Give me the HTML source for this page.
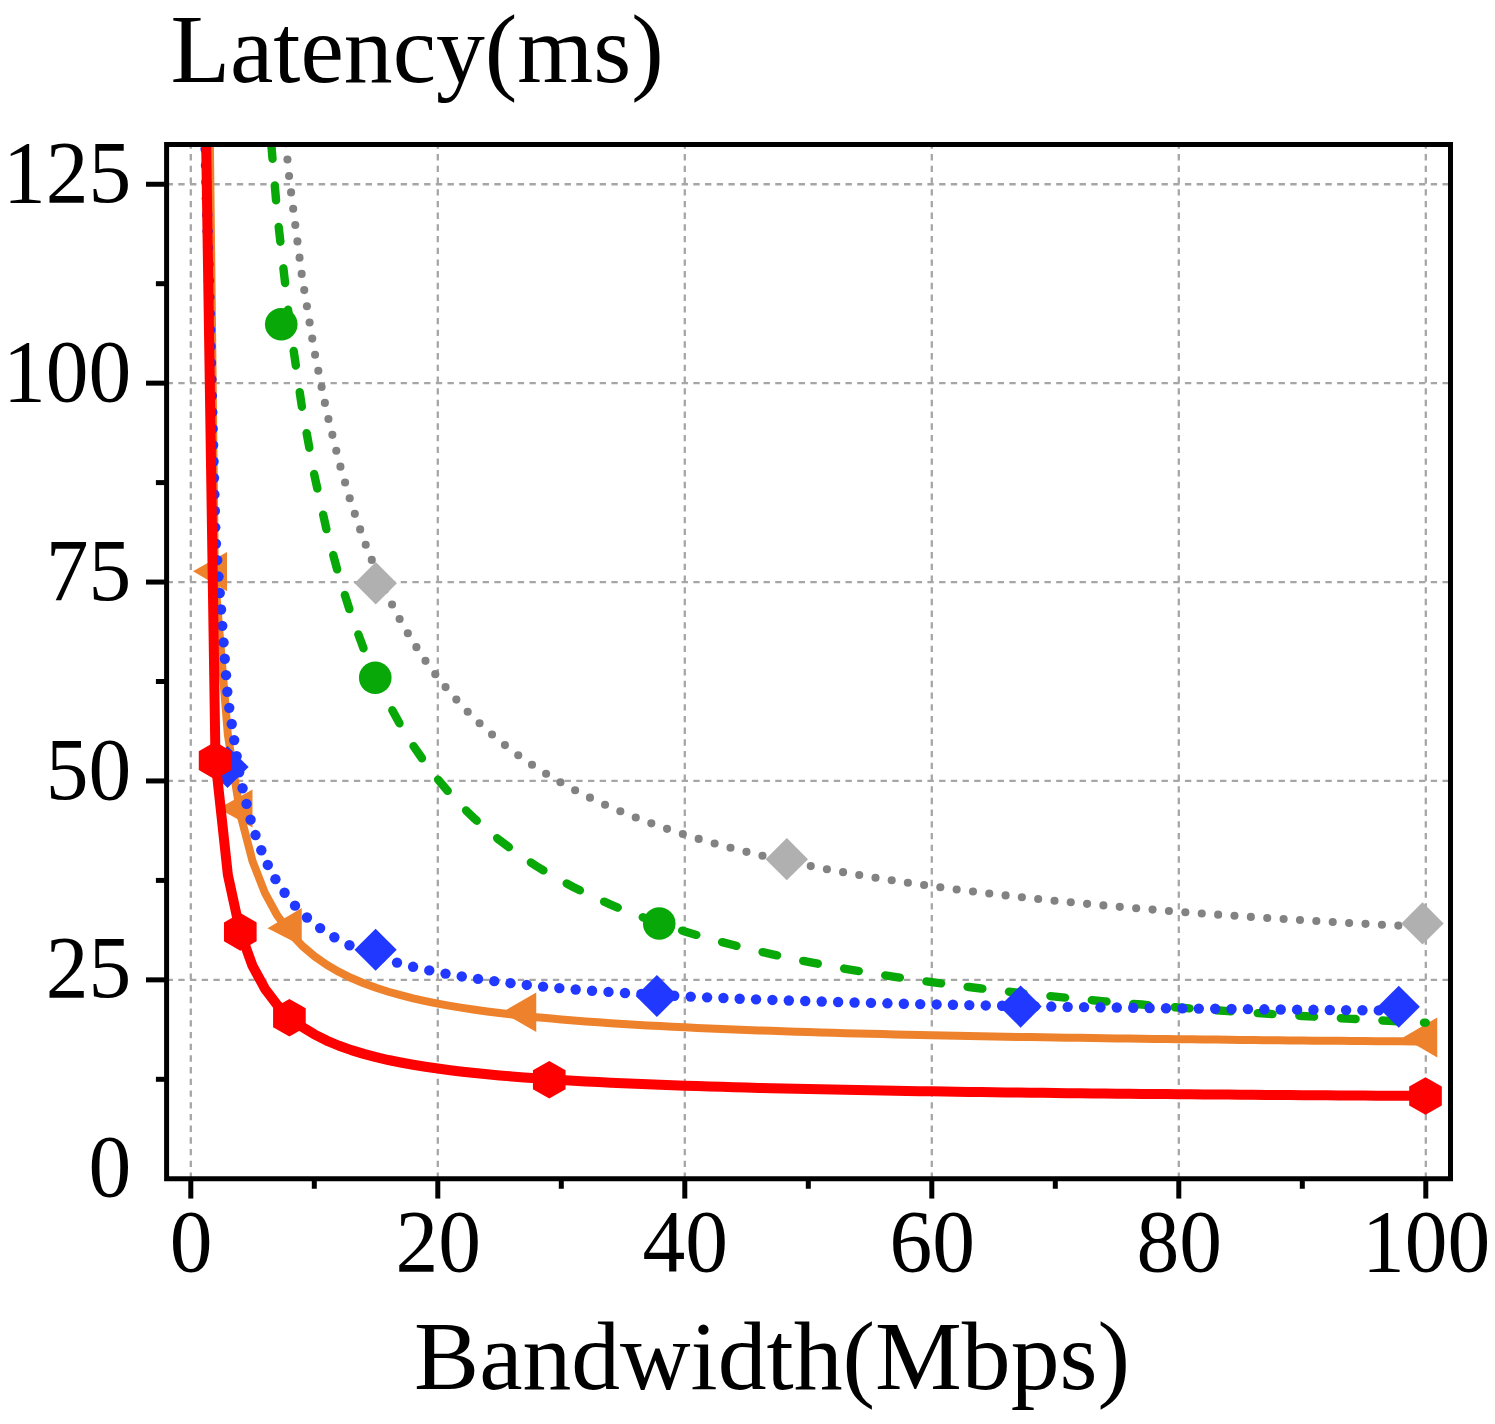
<!DOCTYPE html>
<html><head><meta charset="utf-8"><title>Latency vs Bandwidth</title>
<style>html,body{margin:0;padding:0;background:#fff;overflow:hidden}svg{display:block}text{font-family:"Liberation Serif",serif;fill:#000}</style></head><body>
<svg width="1495" height="1424" viewBox="0 0 1495 1424">
<rect width="1495" height="1424" fill="#fff"/>
<defs><clipPath id="c"><rect x="166.60" y="144.50" width="1283.90" height="1034.25"/></clipPath></defs>
<g stroke="#a6a6a6" stroke-width="2.3" stroke-dasharray="6.35 5.355" fill="none">
<line x1="190.80" y1="1178.75" x2="190.80" y2="144.50"/>
<line x1="437.80" y1="1178.75" x2="437.80" y2="144.50"/>
<line x1="684.80" y1="1178.75" x2="684.80" y2="144.50"/>
<line x1="931.80" y1="1178.75" x2="931.80" y2="144.50"/>
<line x1="1178.80" y1="1178.75" x2="1178.80" y2="144.50"/>
<line x1="1425.80" y1="1178.75" x2="1425.80" y2="144.50"/>
<line x1="166.60" y1="979.85" x2="1450.50" y2="979.85"/>
<line x1="166.60" y1="780.95" x2="1450.50" y2="780.95"/>
<line x1="166.60" y1="582.05" x2="1450.50" y2="582.05"/>
<line x1="166.60" y1="383.15" x2="1450.50" y2="383.15"/>
<line x1="166.60" y1="184.25" x2="1450.50" y2="184.25"/>
</g>
<g clip-path="url(#c)" fill="none" stroke-linejoin="round">
<g fill="#828282">
<circle cx="265.54" cy="-103.32" r="4.05"/>
<circle cx="266.74" cy="-86.88" r="4.05"/>
<circle cx="267.94" cy="-70.44" r="4.05"/>
<circle cx="269.14" cy="-53.99" r="4.05"/>
<circle cx="270.34" cy="-37.55" r="4.05"/>
<circle cx="271.54" cy="-21.11" r="4.05"/>
<circle cx="272.74" cy="-4.67" r="4.05"/>
<circle cx="273.94" cy="11.77" r="4.05"/>
<circle cx="275.14" cy="28.21" r="4.05"/>
<circle cx="276.34" cy="44.65" r="4.05"/>
<circle cx="277.64" cy="61.08" r="4.05"/>
<circle cx="279.28" cy="77.49" r="4.05"/>
<circle cx="280.91" cy="93.89" r="4.05"/>
<circle cx="282.54" cy="110.29" r="4.05"/>
<circle cx="284.17" cy="126.68" r="4.05"/>
<circle cx="285.81" cy="143.11" r="4.05"/>
<circle cx="287.44" cy="159.52" r="4.05"/>
<circle cx="289.08" cy="176.00" r="4.05"/>
<circle cx="291.06" cy="192.42" r="4.05"/>
<circle cx="293.18" cy="208.70" r="4.05"/>
<circle cx="295.30" cy="225.05" r="4.05"/>
<circle cx="297.43" cy="241.42" r="4.05"/>
<circle cx="299.55" cy="257.65" r="4.05"/>
<circle cx="301.66" cy="273.90" r="4.05"/>
<circle cx="304.25" cy="290.10" r="4.05"/>
<circle cx="306.91" cy="306.19" r="4.05"/>
<circle cx="309.59" cy="322.46" r="4.05"/>
<circle cx="312.25" cy="338.62" r="4.05"/>
<circle cx="315.06" cy="354.75" r="4.05"/>
<circle cx="318.33" cy="370.82" r="4.05"/>
<circle cx="321.61" cy="386.92" r="4.05"/>
<circle cx="324.87" cy="402.92" r="4.05"/>
<circle cx="328.44" cy="418.93" r="4.05"/>
<circle cx="332.36" cy="434.84" r="4.05"/>
<circle cx="336.29" cy="450.79" r="4.05"/>
<circle cx="340.43" cy="466.66" r="4.05"/>
<circle cx="345.07" cy="482.46" r="4.05"/>
<circle cx="349.70" cy="498.24" r="4.05"/>
<circle cx="354.80" cy="513.86" r="4.05"/>
<circle cx="360.14" cy="529.38" r="4.05"/>
<circle cx="365.71" cy="544.74" r="4.05"/>
<circle cx="371.77" cy="559.91" r="4.05"/>
<circle cx="378.06" cy="575.00" r="4.05"/>
<circle cx="384.87" cy="589.84" r="4.05"/>
<circle cx="392.05" cy="604.51" r="4.05"/>
<circle cx="399.62" cy="619.02" r="4.05"/>
<circle cx="407.83" cy="633.20" r="4.05"/>
<circle cx="416.40" cy="647.13" r="4.05"/>
<circle cx="425.49" cy="660.87" r="4.05"/>
<circle cx="435.27" cy="674.15" r="4.05"/>
<circle cx="445.55" cy="687.08" r="4.05"/>
<circle cx="456.35" cy="699.61" r="4.05"/>
<circle cx="467.68" cy="711.68" r="4.05"/>
<circle cx="479.56" cy="723.31" r="4.05"/>
<circle cx="492.03" cy="734.49" r="4.05"/>
<circle cx="504.93" cy="745.11" r="4.05"/>
<circle cx="518.26" cy="755.19" r="4.05"/>
<circle cx="532.01" cy="764.74" r="4.05"/>
<circle cx="546.09" cy="773.76" r="4.05"/>
<circle cx="560.45" cy="782.25" r="4.05"/>
<circle cx="575.12" cy="790.21" r="4.05"/>
<circle cx="589.98" cy="797.67" r="4.05"/>
<circle cx="605.04" cy="804.68" r="4.05"/>
<circle cx="620.33" cy="811.31" r="4.05"/>
<circle cx="635.76" cy="817.54" r="4.05"/>
<circle cx="651.31" cy="823.34" r="4.05"/>
<circle cx="667.04" cy="828.84" r="4.05"/>
<circle cx="682.84" cy="834.03" r="4.05"/>
<circle cx="698.69" cy="838.89" r="4.05"/>
<circle cx="714.61" cy="843.46" r="4.05"/>
<circle cx="730.51" cy="847.76" r="4.05"/>
<circle cx="746.45" cy="851.84" r="4.05"/>
<circle cx="762.47" cy="855.68" r="4.05"/>
<circle cx="778.55" cy="859.33" r="4.05"/>
<circle cx="794.63" cy="862.80" r="4.05"/>
<circle cx="810.75" cy="866.08" r="4.05"/>
<circle cx="826.92" cy="869.20" r="4.05"/>
<circle cx="843.07" cy="872.17" r="4.05"/>
<circle cx="859.25" cy="874.99" r="4.05"/>
<circle cx="875.49" cy="877.69" r="4.05"/>
<circle cx="891.70" cy="880.26" r="4.05"/>
<circle cx="907.88" cy="882.71" r="4.05"/>
<circle cx="924.10" cy="885.05" r="4.05"/>
<circle cx="940.32" cy="887.30" r="4.05"/>
<circle cx="956.65" cy="889.46" r="4.05"/>
<circle cx="972.97" cy="891.53" r="4.05"/>
<circle cx="989.26" cy="893.50" r="4.05"/>
<circle cx="1005.58" cy="895.41" r="4.05"/>
<circle cx="1021.87" cy="897.23" r="4.05"/>
<circle cx="1038.19" cy="898.99" r="4.05"/>
<circle cx="1054.51" cy="900.68" r="4.05"/>
<circle cx="1070.76" cy="902.30" r="4.05"/>
<circle cx="1087.09" cy="903.87" r="4.05"/>
<circle cx="1103.42" cy="905.38" r="4.05"/>
<circle cx="1119.76" cy="906.84" r="4.05"/>
<circle cx="1136.18" cy="908.26" r="4.05"/>
<circle cx="1152.54" cy="909.62" r="4.05"/>
<circle cx="1168.93" cy="910.94" r="4.05"/>
<circle cx="1185.36" cy="912.22" r="4.05"/>
<circle cx="1201.75" cy="913.45" r="4.05"/>
<circle cx="1218.13" cy="914.64" r="4.05"/>
<circle cx="1234.47" cy="915.79" r="4.05"/>
<circle cx="1250.84" cy="916.91" r="4.05"/>
<circle cx="1267.23" cy="918.00" r="4.05"/>
<circle cx="1283.62" cy="919.05" r="4.05"/>
<circle cx="1299.97" cy="920.07" r="4.05"/>
<circle cx="1316.33" cy="921.06" r="4.05"/>
<circle cx="1332.72" cy="922.02" r="4.05"/>
<circle cx="1349.11" cy="922.96" r="4.05"/>
<circle cx="1365.50" cy="923.87" r="4.05"/>
<circle cx="1381.92" cy="924.76" r="4.05"/>
<circle cx="1398.33" cy="925.62" r="4.05"/>
<circle cx="1414.77" cy="926.46" r="4.05"/>
</g>
<path d="M354.55 583.25 L375.75 562.05 L396.95 583.25 L375.75 604.45Z" fill="#b0b0b0"/>
<path d="M765.60 859.15 L786.80 837.95 L808.00 859.15 L786.80 880.35Z" fill="#b0b0b0"/>
<path d="M1401.30 923.40 L1422.50 902.20 L1443.70 923.40 L1422.50 944.60Z" fill="#b0b0b0"/>
<path d="M209.70 127.00 L214.90 576.48 L227.85 734.67 L240.20 813.77 L252.55 861.23 L264.90 892.86 L277.25 915.46 L289.60 932.41 L301.95 945.60 L314.30 956.14 L326.65 964.77 L339.00 971.96 L351.35 978.04 L363.70 983.26 L376.05 987.78 L388.40 991.73 L400.75 995.22 L413.10 998.33 L425.45 1001.10 L437.80 1003.60 L450.15 1005.86 L462.50 1007.91 L474.85 1009.79 L487.20 1011.51 L499.55 1013.09 L511.90 1014.55 L524.25 1015.90 L536.60 1017.16 L548.95 1018.33 L561.30 1019.42 L573.65 1020.44 L586.00 1021.40 L598.35 1022.29 L610.70 1023.14 L623.05 1023.94 L635.40 1024.69 L647.75 1025.40 L660.10 1026.08 L672.45 1026.72 L684.80 1027.33 L697.15 1027.91 L709.50 1028.46 L721.85 1028.98 L734.20 1029.48 L746.55 1029.96 L758.90 1030.42 L771.25 1030.86 L783.60 1031.28 L795.95 1031.69 L808.30 1032.07 L820.65 1032.45 L833.00 1032.80 L845.35 1033.15 L857.70 1033.48 L870.05 1033.80 L882.40 1034.11 L894.75 1034.40 L907.10 1034.69 L919.45 1034.97 L931.80 1035.24 L944.15 1035.50 L956.50 1035.75 L968.85 1035.99 L981.20 1036.23 L993.55 1036.45 L1005.90 1036.68 L1018.25 1036.89 L1030.60 1037.10 L1042.95 1037.30 L1055.30 1037.50 L1067.65 1037.69 L1080.00 1037.87 L1092.35 1038.05 L1104.70 1038.23 L1117.05 1038.40 L1129.40 1038.57 L1141.75 1038.73 L1154.10 1038.89 L1166.45 1039.04 L1178.80 1039.19 L1191.15 1039.34 L1203.50 1039.48 L1215.85 1039.62 L1228.20 1039.76 L1240.55 1039.89 L1252.90 1040.02 L1265.25 1040.15 L1277.60 1040.27 L1289.95 1040.39 L1302.30 1040.51 L1314.65 1040.63 L1327.00 1040.74 L1339.35 1040.85 L1351.70 1040.96 L1364.05 1041.07 L1376.40 1041.17 L1388.75 1041.27 L1401.10 1041.37 L1413.45 1041.47 L1425.80 1041.56" stroke="#ee822c" stroke-width="8.0"/>
<path d="M193.00 571.25 L227.00 552.00 L227.00 591.25Z" fill="#ee822c"/>
<path d="M218.50 808.50 L252.50 789.50 L252.50 827.50Z" fill="#ee822c"/>
<path d="M267.50 928.25 L301.75 908.00 L301.75 945.75Z" fill="#ee822c"/>
<path d="M502.00 1012.25 L536.25 992.50 L536.25 1032.00Z" fill="#ee822c"/>
<path d="M1403.00 1037.50 L1437.25 1017.50 L1437.25 1057.50Z" fill="#ee822c"/>
<path d="M252.55 -133.67 L264.90 69.21 L277.25 214.12 L289.60 322.80 L301.95 407.34 L314.30 474.96 L326.65 530.29 L339.00 576.40 L351.35 615.42 L363.70 648.86 L376.05 677.84 L388.40 703.20 L400.75 725.58 L413.10 745.47 L425.45 763.26 L437.80 779.28 L450.15 793.77 L462.50 806.94 L474.85 818.97 L487.20 830.00 L499.55 840.14 L511.90 849.51 L524.25 858.18 L536.60 866.23 L548.95 873.72 L561.30 880.72 L573.65 887.26 L586.00 893.40 L598.35 899.16 L610.70 904.59 L623.05 909.70 L635.40 914.53 L647.75 919.10 L660.10 923.43 L672.45 927.54 L684.80 931.44 L697.15 935.15 L709.50 938.68 L721.85 942.05 L734.20 945.27 L746.55 948.34 L758.90 951.28 L771.25 954.10 L783.60 956.80 L795.95 959.39 L808.30 961.87 L820.65 964.26 L833.00 966.55 L845.35 968.76 L857.70 970.89 L870.05 972.94 L882.40 974.91 L894.75 976.82 L907.10 978.66 L919.45 980.44 L931.80 982.16 L944.15 983.82 L956.50 985.43 L968.85 986.99 L981.20 988.50 L993.55 989.96 L1005.90 991.38 L1018.25 992.76 L1030.60 994.09 L1042.95 995.39 L1055.30 996.65 L1067.65 997.87 L1080.00 999.06 L1092.35 1000.22 L1104.70 1001.35 L1117.05 1002.45 L1129.40 1003.51 L1141.75 1004.55 L1154.10 1005.57 L1166.45 1006.55 L1178.80 1007.52 L1191.15 1008.46 L1203.50 1009.37 L1215.85 1010.27 L1228.20 1011.14 L1240.55 1011.99 L1252.90 1012.82 L1265.25 1013.64 L1277.60 1014.43 L1289.95 1015.21 L1302.30 1015.97 L1314.65 1016.71 L1327.00 1017.44 L1339.35 1018.15 L1351.70 1018.85 L1364.05 1019.53 L1376.40 1020.20 L1388.75 1020.85 L1401.10 1021.49 L1413.45 1022.12 L1425.80 1022.73" stroke="#08a808" stroke-width="8.4" stroke-linecap="round" stroke-dasharray="14.80 26.82" stroke-dashoffset="12.96"/>
<circle cx="281.25" cy="324.25" r="16.3" fill="#08a808"/>
<circle cx="375.25" cy="677.75" r="16.3" fill="#08a808"/>
<circle cx="659.25" cy="923.50" r="16.3" fill="#08a808"/>
<g fill="#2038ff">
<circle cx="203.44" cy="66.87" r="5.2"/>
<circle cx="203.87" cy="83.32" r="5.2"/>
<circle cx="204.29" cy="99.76" r="5.2"/>
<circle cx="204.71" cy="116.21" r="5.2"/>
<circle cx="205.13" cy="132.65" r="5.2"/>
<circle cx="205.55" cy="149.10" r="5.2"/>
<circle cx="205.97" cy="165.54" r="5.2"/>
<circle cx="206.39" cy="181.99" r="5.2"/>
<circle cx="206.81" cy="198.43" r="5.2"/>
<circle cx="207.23" cy="214.88" r="5.2"/>
<circle cx="207.65" cy="231.32" r="5.2"/>
<circle cx="208.07" cy="247.77" r="5.2"/>
<circle cx="208.50" cy="264.21" r="5.2"/>
<circle cx="208.92" cy="280.66" r="5.2"/>
<circle cx="209.34" cy="297.10" r="5.2"/>
<circle cx="209.76" cy="313.55" r="5.2"/>
<circle cx="210.18" cy="329.99" r="5.2"/>
<circle cx="210.60" cy="346.44" r="5.2"/>
<circle cx="211.02" cy="362.88" r="5.2"/>
<circle cx="211.44" cy="379.33" r="5.2"/>
<circle cx="211.86" cy="395.77" r="5.2"/>
<circle cx="212.28" cy="412.21" r="5.2"/>
<circle cx="212.70" cy="428.66" r="5.2"/>
<circle cx="213.13" cy="445.10" r="5.2"/>
<circle cx="213.55" cy="461.55" r="5.2"/>
<circle cx="213.97" cy="477.99" r="5.2"/>
<circle cx="214.39" cy="494.44" r="5.2"/>
<circle cx="214.81" cy="510.88" r="5.2"/>
<circle cx="215.23" cy="527.33" r="5.2"/>
<circle cx="215.95" cy="543.76" r="5.2"/>
<circle cx="217.21" cy="560.16" r="5.2"/>
<circle cx="218.47" cy="576.56" r="5.2"/>
<circle cx="219.73" cy="593.01" r="5.2"/>
<circle cx="221.00" cy="609.47" r="5.2"/>
<circle cx="222.26" cy="625.87" r="5.2"/>
<circle cx="223.52" cy="642.39" r="5.2"/>
<circle cx="224.78" cy="658.79" r="5.2"/>
<circle cx="226.04" cy="675.16" r="5.2"/>
<circle cx="227.31" cy="691.70" r="5.2"/>
<circle cx="229.25" cy="707.86" r="5.2"/>
<circle cx="231.72" cy="723.95" r="5.2"/>
<circle cx="234.20" cy="740.11" r="5.2"/>
<circle cx="236.66" cy="756.10" r="5.2"/>
<circle cx="239.14" cy="772.25" r="5.2"/>
<circle cx="242.53" cy="788.26" r="5.2"/>
<circle cx="246.53" cy="803.90" r="5.2"/>
<circle cx="250.56" cy="819.63" r="5.2"/>
<circle cx="255.49" cy="835.07" r="5.2"/>
<circle cx="261.30" cy="850.21" r="5.2"/>
<circle cx="267.78" cy="864.94" r="5.2"/>
<circle cx="275.42" cy="879.16" r="5.2"/>
<circle cx="284.57" cy="892.78" r="5.2"/>
<circle cx="295.01" cy="905.66" r="5.2"/>
<circle cx="306.96" cy="917.55" r="5.2"/>
<circle cx="320.15" cy="928.08" r="5.2"/>
<circle cx="334.36" cy="937.26" r="5.2"/>
<circle cx="349.46" cy="945.25" r="5.2"/>
<circle cx="365.14" cy="952.03" r="5.2"/>
<circle cx="381.00" cy="957.70" r="5.2"/>
<circle cx="397.00" cy="962.58" r="5.2"/>
<circle cx="413.09" cy="966.81" r="5.2"/>
<circle cx="429.28" cy="970.42" r="5.2"/>
<circle cx="445.52" cy="973.61" r="5.2"/>
<circle cx="461.76" cy="976.43" r="5.2"/>
<circle cx="478.03" cy="978.92" r="5.2"/>
<circle cx="494.26" cy="981.13" r="5.2"/>
<circle cx="510.52" cy="983.14" r="5.2"/>
<circle cx="526.78" cy="984.94" r="5.2"/>
<circle cx="543.06" cy="986.58" r="5.2"/>
<circle cx="559.35" cy="988.08" r="5.2"/>
<circle cx="575.67" cy="989.45" r="5.2"/>
<circle cx="592.04" cy="990.71" r="5.2"/>
<circle cx="608.49" cy="991.89" r="5.2"/>
<circle cx="624.98" cy="992.97" r="5.2"/>
<circle cx="641.38" cy="993.97" r="5.2"/>
<circle cx="657.81" cy="994.90" r="5.2"/>
<circle cx="674.24" cy="995.77" r="5.2"/>
<circle cx="690.70" cy="996.58" r="5.2"/>
<circle cx="707.09" cy="997.34" r="5.2"/>
<circle cx="723.42" cy="998.05" r="5.2"/>
<circle cx="739.67" cy="998.71" r="5.2"/>
<circle cx="756.03" cy="999.34" r="5.2"/>
<circle cx="772.43" cy="999.93" r="5.2"/>
<circle cx="788.82" cy="1000.49" r="5.2"/>
<circle cx="805.23" cy="1001.03" r="5.2"/>
<circle cx="821.70" cy="1001.53" r="5.2"/>
<circle cx="838.12" cy="1002.01" r="5.2"/>
<circle cx="854.55" cy="1002.47" r="5.2"/>
<circle cx="870.98" cy="1002.90" r="5.2"/>
<circle cx="887.41" cy="1003.32" r="5.2"/>
<circle cx="903.84" cy="1003.71" r="5.2"/>
<circle cx="920.22" cy="1004.09" r="5.2"/>
<circle cx="936.58" cy="1004.44" r="5.2"/>
<circle cx="952.93" cy="1004.79" r="5.2"/>
<circle cx="969.32" cy="1005.12" r="5.2"/>
<circle cx="985.75" cy="1005.43" r="5.2"/>
<circle cx="1002.15" cy="1005.74" r="5.2"/>
<circle cx="1018.50" cy="1006.03" r="5.2"/>
<circle cx="1034.90" cy="1006.31" r="5.2"/>
<circle cx="1051.29" cy="1006.57" r="5.2"/>
<circle cx="1067.68" cy="1006.83" r="5.2"/>
<circle cx="1084.07" cy="1007.08" r="5.2"/>
<circle cx="1100.43" cy="1007.32" r="5.2"/>
<circle cx="1116.80" cy="1007.55" r="5.2"/>
<circle cx="1133.23" cy="1007.78" r="5.2"/>
<circle cx="1149.62" cy="1007.99" r="5.2"/>
<circle cx="1166.01" cy="1008.20" r="5.2"/>
<circle cx="1182.41" cy="1008.41" r="5.2"/>
<circle cx="1198.80" cy="1008.60" r="5.2"/>
<circle cx="1215.19" cy="1008.79" r="5.2"/>
<circle cx="1231.57" cy="1008.97" r="5.2"/>
<circle cx="1247.92" cy="1009.15" r="5.2"/>
<circle cx="1264.32" cy="1009.32" r="5.2"/>
<circle cx="1280.71" cy="1009.49" r="5.2"/>
<circle cx="1297.10" cy="1009.65" r="5.2"/>
<circle cx="1313.46" cy="1009.81" r="5.2"/>
<circle cx="1329.78" cy="1009.96" r="5.2"/>
<circle cx="1346.10" cy="1010.11" r="5.2"/>
<circle cx="1362.44" cy="1010.25" r="5.2"/>
<circle cx="1378.78" cy="1010.39" r="5.2"/>
<circle cx="1395.11" cy="1010.53" r="5.2"/>
</g>
<path d="M206.40 767.00 L227.50 745.90 L248.60 767.00 L227.50 788.10Z" fill="#2038ff"/>
<path d="M354.50 949.75 L375.60 928.65 L396.70 949.75 L375.60 970.85Z" fill="#2038ff"/>
<path d="M635.80 996.00 L656.90 974.90 L678.00 996.00 L656.90 1017.10Z" fill="#2038ff"/>
<path d="M999.50 1006.60 L1020.60 985.50 L1041.70 1006.60 L1020.60 1027.70Z" fill="#2038ff"/>
<path d="M1377.65 1006.75 L1398.75 985.65 L1419.85 1006.75 L1398.75 1027.85Z" fill="#2038ff"/>
<path d="M205.90 127.00 L215.50 760.66 L227.85 874.70 L240.20 931.72 L252.55 965.93 L264.90 988.73 L277.25 1005.03 L289.60 1017.24 L301.95 1026.75 L314.30 1034.35 L326.65 1040.57 L339.00 1045.75 L351.35 1050.14 L363.70 1053.90 L376.05 1057.16 L388.40 1060.01 L400.75 1062.52 L413.10 1064.76 L425.45 1066.76 L437.80 1068.56 L450.15 1070.19 L462.50 1071.67 L474.85 1073.02 L487.20 1074.26 L499.55 1075.40 L511.90 1076.45 L524.25 1077.43 L536.60 1078.33 L548.95 1079.18 L561.30 1079.96 L573.65 1080.70 L586.00 1081.39 L598.35 1082.04 L610.70 1082.65 L623.05 1083.22 L635.40 1083.76 L647.75 1084.28 L660.10 1084.76 L672.45 1085.23 L684.80 1085.66 L697.15 1086.08 L709.50 1086.48 L721.85 1086.86 L734.20 1087.22 L746.55 1087.57 L758.90 1087.90 L771.25 1088.21 L783.60 1088.52 L795.95 1088.81 L808.30 1089.09 L820.65 1089.35 L833.00 1089.61 L845.35 1089.86 L857.70 1090.10 L870.05 1090.33 L882.40 1090.55 L894.75 1090.77 L907.10 1090.97 L919.45 1091.17 L931.80 1091.37 L944.15 1091.55 L956.50 1091.73 L968.85 1091.91 L981.20 1092.08 L993.55 1092.24 L1005.90 1092.40 L1018.25 1092.56 L1030.60 1092.71 L1042.95 1092.85 L1055.30 1093.00 L1067.65 1093.13 L1080.00 1093.27 L1092.35 1093.40 L1104.70 1093.52 L1117.05 1093.65 L1129.40 1093.77 L1141.75 1093.88 L1154.10 1094.00 L1166.45 1094.11 L1178.80 1094.22 L1191.15 1094.32 L1203.50 1094.43 L1215.85 1094.53 L1228.20 1094.62 L1240.55 1094.72 L1252.90 1094.81 L1265.25 1094.91 L1277.60 1095.00 L1289.95 1095.08 L1302.30 1095.17 L1314.65 1095.25 L1327.00 1095.33 L1339.35 1095.41 L1351.70 1095.49 L1364.05 1095.57 L1376.40 1095.64 L1388.75 1095.72 L1401.10 1095.79 L1413.45 1095.86 L1425.80 1095.93" stroke="#fe0000" stroke-width="10.0" stroke-linejoin="round"/>
<path d="M215.10 741.75 L231.42 751.18 L231.42 770.02 L215.10 779.45 L198.78 770.02 L198.78 751.18Z" fill="#fe0000"/>
<path d="M240.30 912.95 L256.62 922.38 L256.62 941.22 L240.30 950.65 L223.98 941.22 L223.98 922.38Z" fill="#fe0000"/>
<path d="M289.40 998.90 L305.72 1008.33 L305.72 1027.17 L289.40 1036.60 L273.08 1027.17 L273.08 1008.33Z" fill="#fe0000"/>
<path d="M549.25 1060.90 L565.57 1070.33 L565.57 1089.17 L549.25 1098.60 L532.93 1089.17 L532.93 1070.33Z" fill="#fe0000"/>
<path d="M1425.50 1077.15 L1441.82 1086.58 L1441.82 1105.42 L1425.50 1114.85 L1409.18 1105.42 L1409.18 1086.58Z" fill="#fe0000"/>
</g>
<g stroke="#000" stroke-width="5" fill="none">
<line x1="190.80" y1="1178.75" x2="190.80" y2="1198.55"/>
<line x1="437.80" y1="1178.75" x2="437.80" y2="1198.55"/>
<line x1="684.80" y1="1178.75" x2="684.80" y2="1198.55"/>
<line x1="931.80" y1="1178.75" x2="931.80" y2="1198.55"/>
<line x1="1178.80" y1="1178.75" x2="1178.80" y2="1198.55"/>
<line x1="1425.80" y1="1178.75" x2="1425.80" y2="1198.55"/>
<line x1="314.30" y1="1178.75" x2="314.30" y2="1188.75"/>
<line x1="561.30" y1="1178.75" x2="561.30" y2="1188.75"/>
<line x1="808.30" y1="1178.75" x2="808.30" y2="1188.75"/>
<line x1="1055.30" y1="1178.75" x2="1055.30" y2="1188.75"/>
<line x1="1302.30" y1="1178.75" x2="1302.30" y2="1188.75"/>
<line x1="166.60" y1="979.85" x2="146.00" y2="979.85"/>
<line x1="166.60" y1="780.95" x2="146.00" y2="780.95"/>
<line x1="166.60" y1="582.05" x2="146.00" y2="582.05"/>
<line x1="166.60" y1="383.15" x2="146.00" y2="383.15"/>
<line x1="166.60" y1="184.25" x2="146.00" y2="184.25"/>
<line x1="166.60" y1="1079.30" x2="155.90" y2="1079.30"/>
<line x1="166.60" y1="880.40" x2="155.90" y2="880.40"/>
<line x1="166.60" y1="681.50" x2="155.90" y2="681.50"/>
<line x1="166.60" y1="482.60" x2="155.90" y2="482.60"/>
<line x1="166.60" y1="283.70" x2="155.90" y2="283.70"/>
</g>
<rect x="166.60" y="144.50" width="1283.90" height="1034.25" fill="none" stroke="#000" stroke-width="5.00"/>
<text transform="translate(191.20 1270.6) scale(1 1.050)" font-size="85.5" text-anchor="middle">0</text>
<text transform="translate(438.20 1270.6) scale(1 1.050)" font-size="85.5" text-anchor="middle">20</text>
<text transform="translate(685.20 1270.6) scale(1 1.050)" font-size="85.5" text-anchor="middle">40</text>
<text transform="translate(932.20 1270.6) scale(1 1.050)" font-size="85.5" text-anchor="middle">60</text>
<text transform="translate(1179.20 1270.6) scale(1 1.050)" font-size="85.5" text-anchor="middle">80</text>
<text transform="translate(1426.20 1270.6) scale(1 1.050)" font-size="85.5" text-anchor="middle">100</text>
<text transform="translate(131.3 1196.35) scale(1 1.050)" font-size="85.5" text-anchor="end">0</text>
<text transform="translate(131.3 997.45) scale(1 1.050)" font-size="85.5" text-anchor="end">25</text>
<text transform="translate(131.3 798.55) scale(1 1.050)" font-size="85.5" text-anchor="end">50</text>
<text transform="translate(131.3 599.65) scale(1 1.050)" font-size="85.5" text-anchor="end">75</text>
<text transform="translate(131.3 400.75) scale(1 1.050)" font-size="85.5" text-anchor="end">100</text>
<text transform="translate(131.3 201.85) scale(1 1.050)" font-size="85.5" text-anchor="end">125</text>
<text x="170.4" y="82.1" font-size="97.65">Latency(ms)</text>
<text x="414.0" y="1388.5" font-size="97.65">Bandwidth(Mbps)</text>
</svg></body></html>
